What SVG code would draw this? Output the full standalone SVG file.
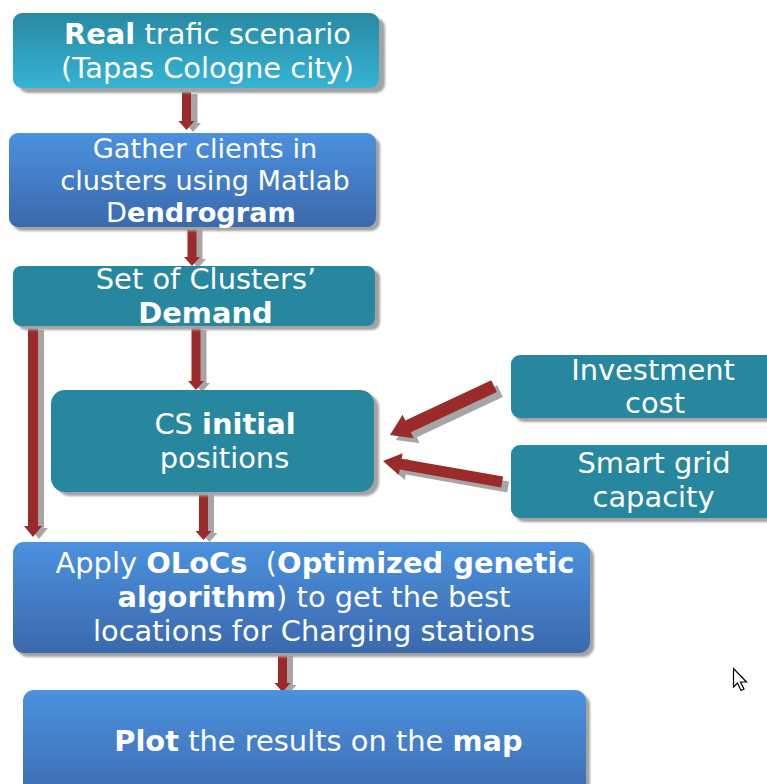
<svg xmlns="http://www.w3.org/2000/svg" xmlns:xlink="http://www.w3.org/1999/xlink" width="767" height="784" viewBox="0 0 767 784">
<defs>
<linearGradient id="gTeal" x1="0" y1="0" x2="0" y2="1">
<stop offset="0" stop-color="#2889a3"/>
<stop offset="1" stop-color="#35b4d4"/>
</linearGradient>
<linearGradient id="gBlue" x1="0" y1="0" x2="0" y2="1">
<stop offset="0" stop-color="#4b91de"/>
<stop offset="1" stop-color="#3b69ad"/>
</linearGradient>
<filter id="blur" x="-10%" y="-10%" width="120%" height="120%"><feGaussianBlur stdDeviation="1"/></filter>
</defs>
<style>
.shadow{fill:#a3a3a3;filter:url(#blur)}
.teal{fill:#27879f}
.t{font-family:"DejaVu Sans","Verdana",sans-serif;font-size:28.9px;fill:#ffffff;text-anchor:middle}
.b{font-weight:bold}
.arr{fill:#9b2b2b}
.arrs{fill:#a6a6a6}
</style>
<rect width="767" height="784" fill="#ffffff"/>

<g id="connectors">
<g id="a1">
<polygon class="arrs" transform="translate(193,132) rotate(90)" points="-38,-4.5 -9,-4.5 -9,-8 0,0 -9,8 -9,4.5 -38,4.5"/>
<polygon class="arr" transform="translate(186.5,130) rotate(90)" points="-38,-4.5 -9,-4.5 -9,-8 0,0 -9,8 -9,4.5 -38,4.5"/>
</g>
<g id="a2">
<polygon class="arrs" transform="translate(198,268) rotate(90)" points="-38,-4.5 -9,-4.5 -9,-8 0,0 -9,8 -9,4.5 -38,4.5"/>
<polygon class="arr" transform="translate(192,266) rotate(90)" points="-38,-4.5 -9,-4.5 -9,-8 0,0 -9,8 -9,4.5 -38,4.5"/>
</g>
<g id="a3">
<polygon class="arrs" transform="translate(202,392) rotate(90)" points="-62,-4.5 -9,-4.5 -9,-8 0,0 -9,8 -9,4.5 -62,4.5"/>
<polygon class="arr" transform="translate(196,390) rotate(90)" points="-62,-4.5 -9,-4.5 -9,-8 0,0 -9,8 -9,4.5 -62,4.5"/>
</g>
<g id="a4">
<polygon class="arrs" transform="translate(39,539) rotate(90)" points="-209,-5 -11,-5 -11,-9 0,0 -11,9 -11,5 -209,5"/>
<polygon class="arr" transform="translate(33,537) rotate(90)" points="-209,-5 -11,-5 -11,-9 0,0 -11,9 -11,5 -209,5"/>
</g>
<g id="a5">
<polygon class="arrs" transform="translate(209.5,542) rotate(90)" points="-47,-4.5 -9,-4.5 -9,-8 0,0 -9,8 -9,4.5 -47,4.5"/>
<polygon class="arr" transform="translate(203.5,540) rotate(90)" points="-47,-4.5 -9,-4.5 -9,-8 0,0 -9,8 -9,4.5 -47,4.5"/>
</g>
<g id="a6">
<polygon class="arrs" transform="translate(288.5,694) rotate(90)" points="-38,-4.5 -9,-4.5 -9,-8 0,0 -9,8 -9,4.5 -38,4.5"/>
<polygon class="arr" transform="translate(282.5,692) rotate(90)" points="-38,-4.5 -9,-4.5 -9,-8 0,0 -9,8 -9,4.5 -38,4.5"/>
</g>
<g id="a7">
<polygon class="arrs" transform="translate(396,440) rotate(154.8)" points="-115,-6.5 -20,-6.5 -20,-13 0,0 -20,13 -20,6.5 -115,6.5"/>
<polygon class="arr" transform="translate(390,435) rotate(154.8)" points="-115,-6.5 -20,-6.5 -20,-13 0,0 -20,13 -20,6.5 -115,6.5"/>
</g>
<g id="a8">
<polygon class="arrs" transform="translate(389,466) rotate(190)" points="-121,-5.5 -18,-5.5 -18,-11 0,0 -18,11 -18,5.5 -121,5.5"/>
<polygon class="arr" transform="translate(383,461) rotate(190)" points="-121,-5.5 -18,-5.5 -18,-11 0,0 -18,11 -18,5.5 -121,5.5"/>
</g>
</g>

<g id="n1">
<rect class="shadow" x="19" y="18" width="366" height="75" rx="9"/>
<rect x="13" y="13" width="366" height="75" rx="9" fill="url(#gTeal)"/>
<text class="t" x="207.5" y="44"><tspan class="b">Real</tspan> trafic scenario</text>
<text class="t" x="207.5" y="78">(Tapas Cologne city)</text>
</g>

<g id="n2">
<rect class="shadow" x="13" y="137" width="367" height="94" rx="9"/>
<rect x="9" y="133" width="367" height="94" rx="9" fill="url(#gBlue)"/>
<text class="t" x="205" y="158" style="font-size:27.2px">Gather clients in</text>
<text class="t" x="205" y="190" style="font-size:27.2px">clusters using Matlab</text>
<text class="t" x="201" y="222" style="font-size:27.2px">D<tspan class="b">endrogram</tspan></text>
</g>

<g id="n3">
<rect class="shadow" x="18" y="270" width="362" height="60" rx="8"/>
<rect class="teal" x="13" y="266" width="362" height="60" rx="8"/>
<text class="t" x="206" y="289">Set of Clusters’</text>
<text class="t b" x="205.5" y="323">Demand</text>
</g>

<g id="n4">
<rect class="shadow" x="56" y="394" width="323" height="102" rx="14"/>
<rect class="teal" x="51" y="390" width="323" height="102" rx="14"/>
<text class="t" x="225" y="434">CS <tspan class="b">initial</tspan></text>
<text class="t" x="224.5" y="468">positions</text>
</g>

<g id="n5">
<rect class="shadow" x="515" y="359" width="270" height="63" rx="9"/>
<rect class="teal" x="511" y="355" width="270" height="63" rx="9"/>
<text class="t" x="653" y="380">Investment</text>
<text class="t" x="655" y="413">cost</text>
</g>

<g id="n6">
<rect class="shadow" x="515" y="449" width="270" height="73" rx="9"/>
<rect class="teal" x="511" y="445" width="270" height="73" rx="9"/>
<text class="t" x="654" y="473">Smart grid</text>
<text class="t" x="653.5" y="507">capacity</text>
</g>

<g id="n7">
<rect class="shadow" x="17" y="546" width="577" height="111" rx="11"/>
<rect x="13" y="542" width="577" height="111" rx="11" fill="url(#gBlue)"/>
<text class="t" x="315" y="573" xml:space="preserve">Apply <tspan class="b">OLoCs</tspan>  (<tspan class="b">Optimized genetic</tspan></text>
<text class="t" x="314" y="607"><tspan class="b">algorithm</tspan>) to get the best</text>
<text class="t" x="314" y="641">locations for Charging stations</text>
</g>

<g id="n8">
<rect class="shadow" x="27" y="694" width="563" height="120" rx="11"/>
<rect x="23" y="690" width="563" height="120" rx="11" fill="url(#gBlue)"/>
<text class="t" x="318.5" y="751"><tspan class="b">Plot</tspan> the results on the <tspan class="b">map</tspan></text>
</g>

<g id="cursor">
<polygon points="733.5,668.5 733.5,687 737.5,683 741,690.5 744,689 740.5,682 746.5,682" fill="#ffffff" stroke="#000000" stroke-width="1.2" stroke-linejoin="miter"/>
</g>
</svg>
